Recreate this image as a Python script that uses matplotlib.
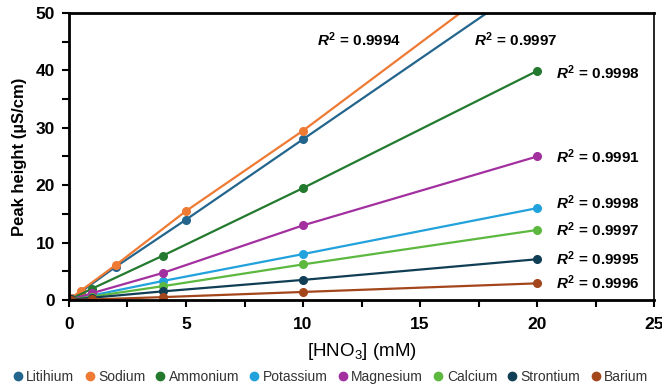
import matplotlib
matplotlib.use("Agg")
from matplotlib import pyplot as plt
from matplotlib.ticker import MultipleLocator

plt.rcParams['font.family'] = ['Liberation Sans', 'DejaVu Sans']
plt.rcParams['mathtext.fontset'] = 'custom'
plt.rcParams['mathtext.rm'] = 'Liberation Sans'
plt.rcParams['mathtext.it'] = 'Liberation Sans:italic:bold'
plt.rcParams['mathtext.bf'] = 'Liberation Sans:bold'

# ion names, colours and measured peak heights
ions = ["Litihium", "Sodium", "Ammonium", "Potassium", "Magnesium", "Calcium", "Strontium", "Barium"]
colors = ["#23658C", "#EE7A34", "#237A2E", "#22A2DC", "#A2309F", "#5CB83F", "#103E55", "#A3461B"]

conc_a = [0.1, 0.5, 2, 5, 10, 20]
conc_b = [0.1, 1, 4, 10, 20]

lithium = [0.3, 1.4, 5.8, 14.0, 28.0, 56.0]
sodium = [0.3, 1.6, 6.1, 15.5, 29.5, 60.0]
ammonium = [0.2, 2.0, 7.7, 19.5, 39.9]
potassium = [0.1, 0.8, 3.3, 8.0, 16.0]
magnesium = [0.1, 1.2, 4.7, 13.0, 25.0]
calcium = [0.1, 0.6, 2.4, 6.2, 12.2]
strontium = [0.1, 0.4, 1.5, 3.5, 7.1]
barium = [0.0, 0.1, 0.5, 1.4, 2.9]

series = [(conc_a, lithium), (conc_a, sodium), (conc_b, ammonium), (conc_b, potassium),
          (conc_b, magnesium), (conc_b, calcium), (conc_b, strontium), (conc_b, barium)]

r2_labels = ["0.9994", "0.9997", "0.9998", "0.9991", "0.9998", "0.9997", "0.9995", "0.9996"]
r2_pos = [(12.4, 45.3, 'center'), (19.1, 45.3, 'center'), (20.8, 39.6, 'left'), (20.8, 24.9, 'left'),
          (20.8, 16.9, 'left'), (20.8, 12.3, 'left'), (20.8, 7.2, 'left'), (20.8, 3.0, 'left')]

fig = plt.figure(figsize=(6.62, 3.89), dpi=100)
ax = fig.add_axes([0.1042, 0.2288, 0.8838, 0.7378])

for name, col, (xs, ys) in zip(ions, colors, series):
    ax.plot(xs, ys, color=col, lw=1.6, marker='o', ms=5.5, label=name)

for lab, (tx, ty, ha) in zip(r2_labels, r2_pos):
    ax.text(tx, ty, r"$\mathit{R}^{\mathbf{2}}$ = " + lab, ha=ha, va='center',
            fontsize=11, fontweight='bold')

ax.set_xlim(0, 25)
ax.set_ylim(0, 50)
ax.xaxis.set_major_locator(MultipleLocator(5))
ax.xaxis.set_minor_locator(MultipleLocator(2.5))
ax.yaxis.set_major_locator(MultipleLocator(10))
ax.yaxis.set_minor_locator(MultipleLocator(5))
ax.tick_params(which='both', direction='out', length=5, width=1.5)
ax.tick_params(axis='x', labelsize=12.5, pad=7)
ax.tick_params(axis='y', labelsize=12.5, pad=5)
for lbl in ax.get_xticklabels() + ax.get_yticklabels():
    lbl.set_fontweight('bold')

for s in ['left', 'bottom', 'top']:
    ax.spines[s].set_linewidth(2)
ax.spines['right'].set_linewidth(1.2)

ax.set_ylabel("Peak height (µS/cm)", fontsize=12, fontweight='bold', labelpad=6)
ax.set_xlabel("[HNO$_3$] (mM)", fontsize=13.5, labelpad=7)

fig.legend(loc='center', bbox_to_anchor=(0.5, 0.03), ncol=8, frameon=False,
           handlelength=0.6, handletextpad=0.3, columnspacing=0.8,
           prop={'size': 10}, labelcolor='#333333')
leg = fig.legends[0]
for h in leg.legend_handles:
    h.set_linestyle('none')
    h.set_markersize(6)

fig.savefig("out.png", dpi=100)
